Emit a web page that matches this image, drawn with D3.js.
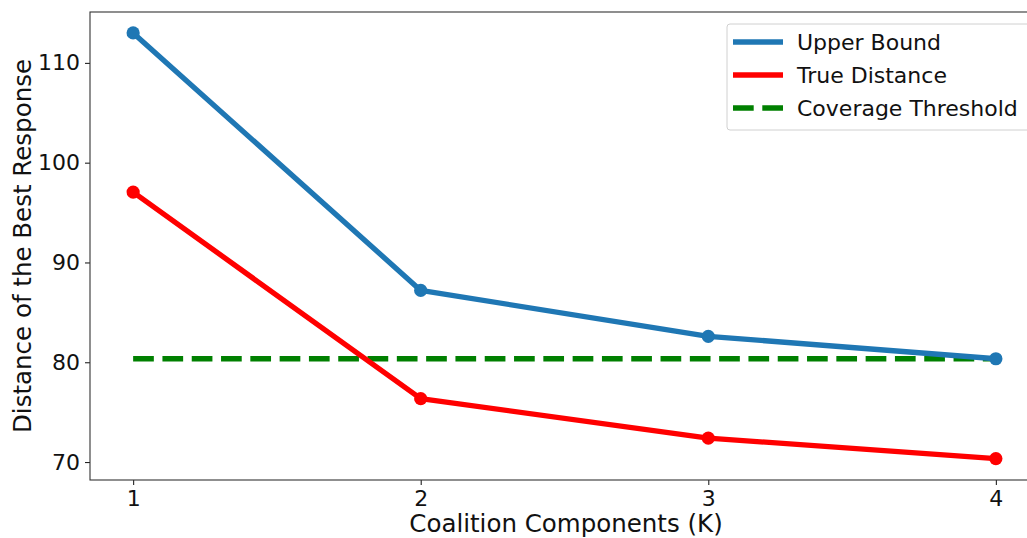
<!DOCTYPE html>
<html>
<head>
<meta charset="utf-8">
<script src="https://cdn.jsdelivr.net/npm/d3@7"></script>
<style>
  html, body { margin: 0; padding: 0; background: #fff; overflow: hidden; }
  svg { display: block; font-family: "DejaVu Sans", sans-serif; }
</style>
</head>
<body>
<div id="chart"></div>
<script>
// Number of coalition components
const components = [1, 2, 3, 4];
// Distance of the best response per K
const upperBound = [113.0, 87.2, 82.6, 80.35];
const trueDistance = [97.05, 76.35, 72.4, 70.35];
const coverageThreshold = 80.35;
const yTicks = [70, 80, 90, 100, 110];
const seriesNames = ["Upper Bound", "True Distance", "Coverage Threshold"];

const W = 1027, H = 538;
const plot = { left: 90, right: 1039, top: 12, bottom: 480 };

const svg = d3.select("#chart").append("svg")
  .attr("width", W).attr("height", H);

const x = d3.scaleLinear().domain([0.85, 4.15]).range([plot.left, plot.right]);
const y = d3.scaleLinear().domain([68.2, 115.1]).range([plot.bottom, plot.top]);

// Axes
const xAxis = svg.append("g")
  .attr("transform", `translate(0,${plot.bottom})`)
  .call(d3.axisBottom(x).tickValues(components).tickFormat(d3.format("d")).tickSize(5).tickPadding(5));
const yAxis = svg.append("g")
  .attr("transform", `translate(${plot.left},0)`)
  .call(d3.axisLeft(y).tickValues(yTicks).tickSize(5).tickPadding(5));

[xAxis, yAxis].forEach(g => {
  g.selectAll("path").remove();
  g.selectAll("line").attr("stroke", "#222").attr("stroke-width", 1.1);
  g.selectAll("text").attr("font-size", 22).attr("fill", "#111")
    .attr("font-family", "DejaVu Sans, sans-serif");
});

// Spines
svg.append("rect")
  .attr("x", plot.left).attr("y", plot.top)
  .attr("width", plot.right - plot.left).attr("height", plot.bottom - plot.top)
  .attr("fill", "none").attr("stroke", "#333").attr("stroke-width", 1.1);

// Threshold line
svg.append("line")
  .attr("x1", x(components[0])).attr("x2", x(components[components.length - 1]))
  .attr("y1", y(coverageThreshold)).attr("y2", y(coverageThreshold))
  .attr("stroke", "#008000").attr("stroke-width", 5.3)
  .attr("stroke-dasharray", "20.7 8.6");

const line = d3.line().x((d, i) => x(components[i])).y(d => y(d));

function drawSeries(values, color) {
  svg.append("path").datum(values)
    .attr("d", line).attr("fill", "none")
    .attr("stroke", color).attr("stroke-width", 5.3)
    .attr("stroke-linejoin", "round").attr("stroke-linecap", "butt");
  svg.append("g").selectAll("circle").data(values).join("circle")
    .attr("cx", (d, i) => x(components[i])).attr("cy", d => y(d))
    .attr("r", 6.6).attr("fill", color);
}
drawSeries(trueDistance, "#ff0000");
drawSeries(upperBound, "#1f77b4");

// Axis titles
svg.append("text")
  .attr("x", 566).attr("y", 532)
  .attr("text-anchor", "middle").attr("font-size", 24.5).attr("fill", "#111")
  .text("Coalition Components (K)");
svg.append("text")
  .attr("transform", `translate(31,${246}) rotate(-90)`)
  .attr("text-anchor", "middle").attr("font-size", 24.5).attr("fill", "#111")
  .text("Distance of the Best Response");

// Legend
const lg = svg.append("g").attr("transform", "translate(727,24)");
lg.append("rect")
  .attr("x", 0).attr("y", 0).attr("width", 306).attr("height", 106)
  .attr("rx", 3).attr("fill", "#fff").attr("fill-opacity", 0.8)
  .attr("stroke", "#d0d0d0").attr("stroke-width", 1);
const legendColors = ["#1f77b4", "#ff0000", "#008000"];
seriesNames.forEach((name, i) => {
  const yy = 18 + i * 33;
  lg.append("line")
    .attr("x1", 6).attr("x2", 56).attr("y1", yy).attr("y2", yy)
    .attr("stroke", legendColors[i]).attr("stroke-width", 5.3)
    .attr("stroke-dasharray", i === 2 ? "20.7 8.6" : null);
  lg.append("text")
    .attr("x", 70).attr("y", yy + 8)
    .attr("font-size", 22).attr("fill", "#111")
    .text(name);
});
</script>
</body>
</html>
